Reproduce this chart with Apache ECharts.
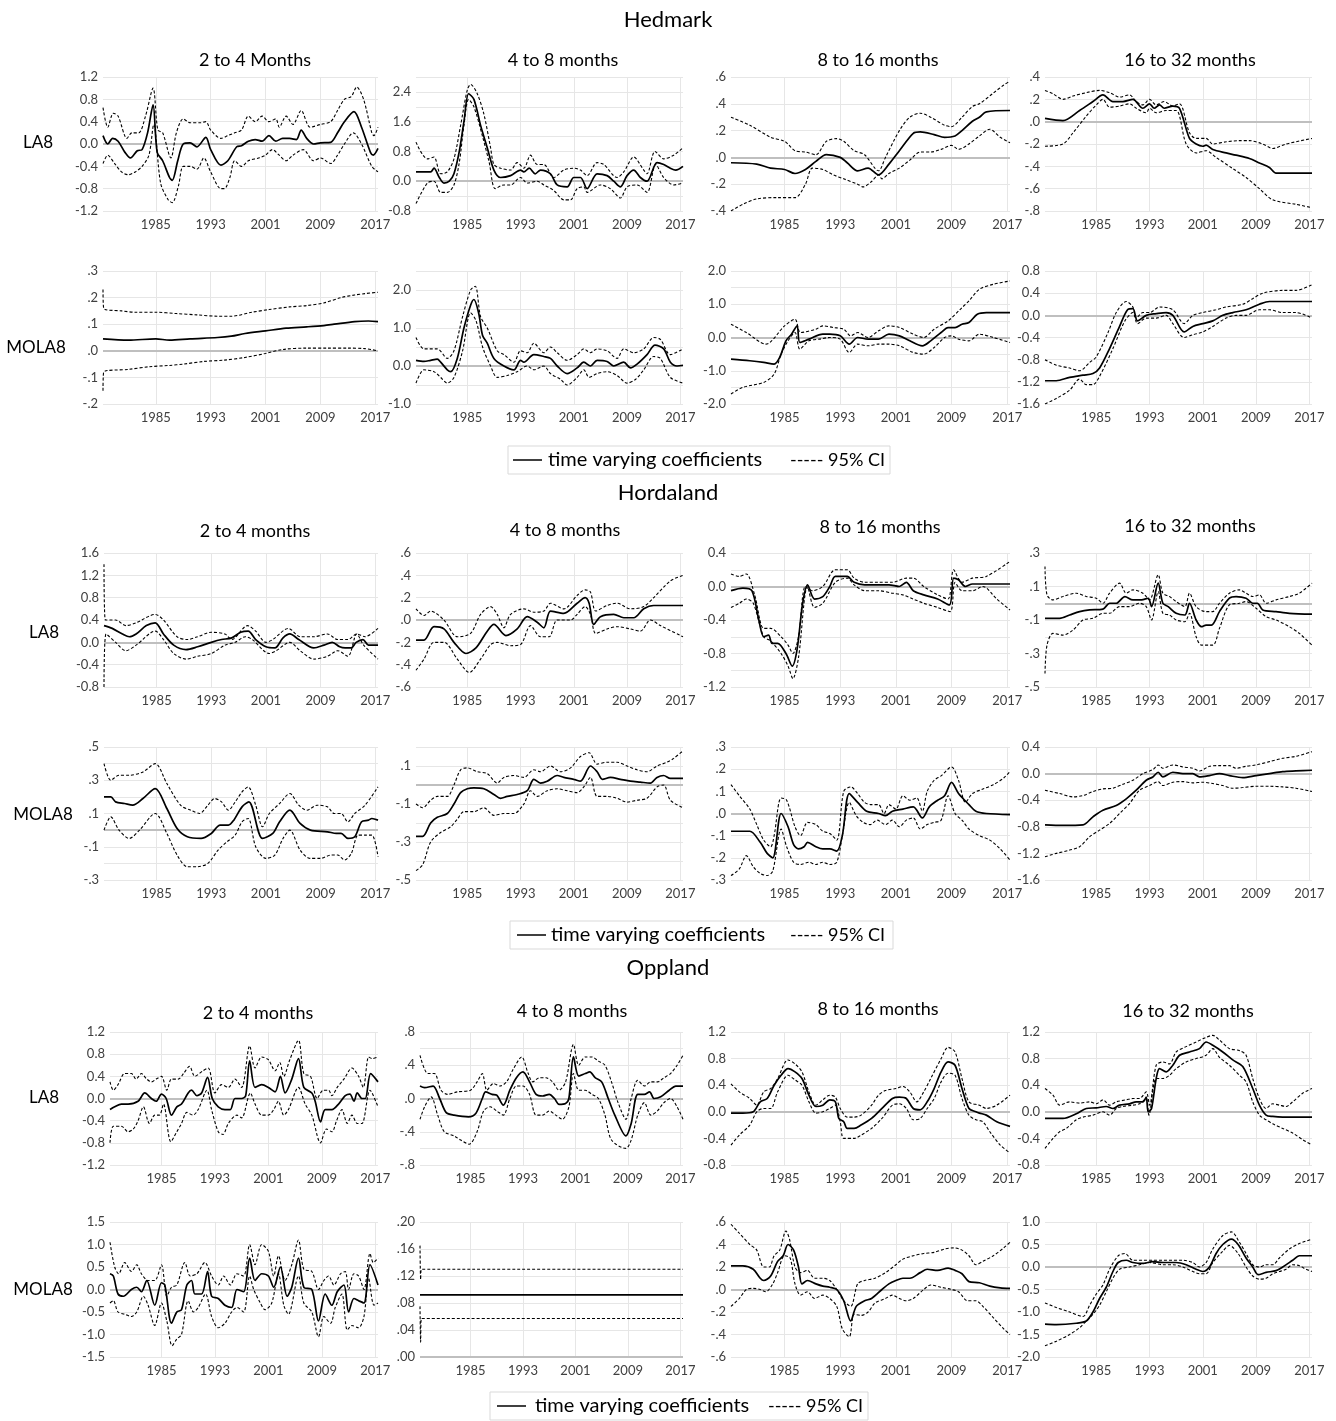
<!DOCTYPE html>
<html>
<head>
<meta charset="utf-8">
<script src="https://cdn.jsdelivr.net/npm/echarts@6/dist/echarts.min.js"></script>
<style>
html, body { margin: 0; padding: 0; background: #fff; }
#main { width: 1336px; height: 1421px; }
</style>
</head>
<body>
<div id="main"></div>
<script>
// x axis
var yearTicks = [1985, 1993, 2001, 2009, 2017];
var xMin = 1977.3, xMax = 2017.4;

// y tick lists (gridlines / labelled values)
var t12by4 = [-1.2, -0.8, -0.4, 0, 0.4, 0.8, 1.2];
var tH48grid = [-0.8, -0.4, 0, 0.4, 0.8, 1.2, 1.6, 2.0, 2.4, 2.8];
var tH48lab = [-0.8, 0, 0.8, 1.6, 2.4];
var tH816 = [-0.4, -0.2, 0, 0.2, 0.4, 0.6];
var tH1632 = [-0.8, -0.6, -0.4, -0.2, 0, 0.2, 0.4];
var tHM24 = [-0.2, -0.1, 0, 0.1, 0.2, 0.3];
var tHM48grid = [-1, -0.5, 0, 0.5, 1, 1.5, 2, 2.5];
var tHM48lab = [-1, 0, 1, 2];
var tHM816grid = [-2, -1.5, -1, -0.5, 0, 0.5, 1, 1.5, 2];
var tHM816lab = [-2, -1, 0, 1, 2];
var t16by4 = [-1.6, -1.2, -0.8, -0.4, 0, 0.4, 0.8];
var tD24 = [-0.8, -0.4, 0, 0.4, 0.8, 1.2, 1.6];
var tD48 = [-0.6, -0.4, -0.2, 0, 0.2, 0.4, 0.6];
var tD816grid = [-1.2, -1.0, -0.8, -0.6, -0.4, -0.2, 0, 0.2, 0.4];
var tD816lab = [-1.2, -0.8, -0.4, 0, 0.4];
var tD1632grid = [-0.5, -0.4, -0.3, -0.2, -0.1, 0, 0.1, 0.2, 0.3];
var tD1632lab = [-0.5, -0.3, -0.1, 0.1, 0.3];
var tDM24grid = [-0.3, -0.2, -0.1, 0, 0.1, 0.2, 0.3, 0.4, 0.5];
var tDM24lab = [-0.3, -0.1, 0.1, 0.3, 0.5];
var tDM48grid = [-0.5, -0.4, -0.3, -0.2, -0.1, 0, 0.1, 0.2];
var tDM48lab = [-0.5, -0.3, -0.1, 0.1];
var tDM816 = [-0.3, -0.2, -0.1, 0, 0.1, 0.2, 0.3];
var tDM1632 = [-1.6, -1.2, -0.8, -0.4, 0, 0.4];
var tO48grid = [-0.8, -0.6, -0.4, -0.2, 0, 0.2, 0.4, 0.6, 0.8];
var tO48lab = [-0.8, -0.4, 0, 0.4, 0.8];
var tO816 = [-0.8, -0.4, 0, 0.4, 0.8, 1.2];
var tOM24 = [-1.5, -1, -0.5, 0, 0.5, 1, 1.5];
var tOM48 = [0, 0.04, 0.08, 0.12, 0.16, 0.2];
var tOM816 = [-0.6, -0.4, -0.2, 0, 0.2, 0.4, 0.6];
var tOM1632 = [-2, -1.5, -1, -0.5, 0, 0.5, 1];

// ---------------- Hedmark LA8 ----------------
var hedLa24Mid = [[1977.3,0.15],[1978,0.0],[1978.7,0.1],[1979.5,0.05],[1980.5,-0.15],[1981.3,-0.25],[1982.3,-0.12],[1983,-0.1],[1983.8,0.2],[1984.6,0.7],[1985.2,-0.15],[1986,-0.3],[1987,-0.6],[1987.4,-0.65],[1988.2,-0.3],[1989,0.0],[1990,0.02],[1991,-0.05],[1992.3,0.12],[1993,-0.1],[1994.5,-0.38],[1995.5,-0.3],[1996.8,-0.05],[1997.5,-0.03],[1998.5,0.05],[1999.5,0.08],[2000.5,0.05],[2001.5,0.15],[2002.5,0.05],[2003.5,0.1],[2004.5,0.1],[2005.5,0.08],[2006.2,0.25],[2007,0.1],[2008,0.0],[2009,0.02],[2010.5,0.03],[2011.5,0.2],[2012.5,0.4],[2013.9,0.58],[2015,0.3],[2016.3,-0.15],[2016.7,-0.2],[2017.4,-0.08]];
var hedLa24Hi = [[1977.3,0.65],[1978,0.3],[1978.8,0.55],[1979.5,0.5],[1980.8,0.1],[1981.5,0.2],[1982.5,0.2],[1983.5,0.5],[1984.6,1.0],[1985.3,0.25],[1986,0.2],[1987.2,-0.25],[1988,0.2],[1989,0.45],[1990,0.38],[1991.5,0.38],[1992.3,0.4],[1993,0.25],[1994.5,0.1],[1995.5,0.15],[1996.5,0.2],[1997.5,0.25],[1998.5,0.5],[1999.5,0.4],[2000.5,0.5],[2001.5,0.4],[2002.5,0.45],[2003,0.3],[2004,0.5],[2005,0.35],[2006.2,0.6],[2007.5,0.3],[2009,0.35],[2010.5,0.4],[2011.5,0.6],[2012.5,0.8],[2013.5,0.85],[2014.3,1.02],[2015.3,0.8],[2016.5,0.2],[2016.8,0.15],[2017.4,0.3]];
var hedLa24Lo = [[1977.3,-0.35],[1978,-0.2],[1979,-0.35],[1980,-0.5],[1981,-0.55],[1982,-0.5],[1983,-0.4],[1984,-0.2],[1984.7,0.35],[1985.7,-0.7],[1986.8,-1.0],[1987.4,-1.05],[1988.3,-0.75],[1989,-0.4],[1990,-0.4],[1991,-0.45],[1992,-0.25],[1993,-0.5],[1994.5,-0.8],[1995,-0.8],[1995.8,-0.6],[1996.5,-0.3],[1997.5,-0.4],[1998.5,-0.3],[2000,-0.25],[2001,-0.2],[2002,-0.1],[2003,-0.2],[2004,-0.3],[2005,-0.2],[2006.5,-0.1],[2008,-0.3],[2009,-0.25],[2010.5,-0.35],[2011.5,-0.2],[2012.5,0.0],[2013.8,0.2],[2015,0.0],[2016.5,-0.4],[2017.4,-0.5]];

var hedLa48Mid = [[1977.3,0.25],[1979.5,0.25],[1980,0.35],[1980.8,0.1],[1981.5,-0.05],[1982.3,0.0],[1983,0.2],[1983.8,0.8],[1984.5,1.6],[1985.2,2.35],[1986,2.2],[1987,1.5],[1988,0.9],[1989,0.3],[1990,0.1],[1991.5,0.15],[1993,0.3],[1993.5,0.25],[1994.3,0.35],[1995.2,0.2],[1996,0.3],[1997.5,0.2],[1998.5,-0.1],[2000,-0.15],[2001,0.1],[2002,0.1],[2003,-0.2],[2004.5,0.2],[2006,0.15],[2007,0.0],[2008,-0.15],[2009,0.15],[2010,0.3],[2011,0.1],[2012,0.0],[2013.5,0.5],[2014.5,0.45],[2015.5,0.35],[2016.3,0.3],[2017.4,0.4]];
var hedLa48Hi = [[1977.3,1.05],[1979,0.6],[1980,0.65],[1981,0.2],[1982,0.25],[1983,0.6],[1984,1.5],[1985,2.45],[1985.5,2.6],[1986.5,2.35],[1987.5,1.8],[1988.5,0.9],[1989,0.45],[1990,0.35],[1991.5,0.3],[1992.5,0.5],[1993.5,0.35],[1994.5,0.7],[1995.5,0.45],[1996.5,0.45],[1998,0.1],[1999.5,0.3],[2001,0.35],[2002,0.3],[2003,0.15],[2004.5,0.5],[2005.5,0.45],[2007.5,0.1],[2008.5,0.25],[2010,0.65],[2011.5,0.3],[2012,0.2],[2013.2,0.8],[2014.5,0.6],[2016,0.7],[2017.4,0.9]];
var hedLa48Lo = [[1977.3,-0.6],[1979,-0.05],[1980,0.0],[1981,-0.3],[1982,-0.3],[1983,-0.1],[1983.8,0.5],[1984.5,1.5],[1985.2,2.2],[1986,2.0],[1987.3,1.2],[1988.3,0.5],[1989.2,-0.2],[1990.5,-0.1],[1991.5,-0.1],[1993,0.1],[1994,-0.05],[1995.5,0.0],[1996.5,-0.1],[1998,-0.25],[1999.5,-0.5],[2000.5,-0.5],[2001.5,-0.2],[2002.5,-0.15],[2003,-0.3],[2005,-0.1],[2006.5,-0.2],[2008,-0.45],[2009,-0.15],[2010.5,-0.1],[2012,-0.3],[2013.3,0.45],[2014.5,0.1],[2016,-0.1],[2017.4,-0.05]];

var hedLa816Mid = [[1977.3,-0.04],[1981,-0.05],[1983,-0.08],[1985,-0.09],[1986.5,-0.12],[1988,-0.09],[1989.5,-0.03],[1991,0.02],[1993,0.0],[1994,-0.04],[1995.5,-0.1],[1997,-0.08],[1998.5,-0.13],[2000,-0.05],[2001.5,0.05],[2003.5,0.18],[2004.5,0.19],[2006.5,0.17],[2008,0.15],[2009.5,0.16],[2010.5,0.2],[2012,0.27],[2013,0.3],[2014,0.34],[2017.4,0.35]];
var hedLa816Hi = [[1977.3,0.3],[1980,0.24],[1983,0.15],[1985,0.12],[1986.5,0.05],[1988,0.04],[1989.5,0.02],[1991,0.12],[1992.5,0.14],[1993.5,0.12],[1995,0.05],[1996.5,0.02],[1998.5,-0.1],[1999.5,0.0],[2001.5,0.2],[2003,0.3],[2004.5,0.33],[2006,0.3],[2008,0.24],[2009,0.23],[2010.5,0.3],[2012,0.38],[2013,0.4],[2015,0.48],[2016.5,0.54],[2017.4,0.57]];
var hedLa816Lo = [[1977.3,-0.4],[1979,-0.35],[1981,-0.31],[1984,-0.3],[1986.5,-0.3],[1988,-0.2],[1989,-0.08],[1990.5,-0.09],[1992,-0.13],[1993.5,-0.16],[1995.5,-0.2],[1996.3,-0.22],[1997.5,-0.18],[1998.5,-0.13],[1999,-0.16],[2000,-0.12],[2001.5,-0.08],[2003,-0.02],[2004.5,0.04],[2006,0.04],[2007.5,0.06],[2009,0.09],[2010,0.06],[2011.5,0.1],[2013,0.16],[2014.5,0.21],[2016,0.15],[2017.4,0.11]];

var hedLa1632Mid = [[1977.3,0.03],[1980,0.01],[1982.5,0.1],[1984.5,0.18],[1986,0.24],[1987.5,0.18],[1989,0.18],[1990.5,0.2],[1992,0.12],[1993,0.16],[1993.7,0.12],[1994.5,0.15],[1995.2,0.12],[1996.5,0.14],[1997.5,0.12],[1999,-0.15],[2000,-0.2],[2001,-0.22],[2001.5,-0.21],[2002.5,-0.25],[2004.5,-0.28],[2006,-0.3],[2008,-0.33],[2009.5,-0.37],[2011,-0.41],[2012,-0.46],[2017.4,-0.46]];
var hedLa1632Hi = [[1977.3,0.28],[1978.5,0.25],[1980,0.2],[1981.5,0.23],[1983.5,0.26],[1985.5,0.28],[1987,0.26],[1988.5,0.22],[1990,0.24],[1991,0.18],[1992,0.15],[1993,0.2],[1994,0.15],[1995.2,0.18],[1996.5,0.14],[1997.5,0.16],[1999,-0.1],[2000,-0.15],[2001.5,-0.15],[2002.5,-0.2],[2004.5,-0.18],[2006.5,-0.17],[2008,-0.17],[2010,-0.2],[2011.5,-0.24],[2013.5,-0.2],[2017.4,-0.15]];
var hedLa1632Lo = [[1977.3,-0.22],[1980,-0.2],[1981.5,-0.1],[1983.5,0.05],[1985,0.15],[1986,0.2],[1987,0.13],[1988.5,0.14],[1990,0.16],[1991,0.12],[1992.5,0.08],[1993,0.12],[1994,0.08],[1995.5,0.1],[1997,0.1],[1998.5,-0.2],[2000,-0.28],[2001.5,-0.26],[2003,-0.32],[2005.5,-0.42],[2007.5,-0.5],[2009.5,-0.6],[2011.5,-0.7],[2015,-0.74],[2017.4,-0.77]];

// ---------------- Hedmark MOLA8 ----------------
var hedMo24Mid = [[1977.3,0.045],[1981,0.04],[1985,0.045],[1987,0.04],[1990,0.045],[1994,0.05],[1996,0.055],[1998,0.065],[2001,0.075],[2004,0.085],[2007,0.09],[2009.5,0.095],[2011,0.1],[2014,0.11],[2016,0.112],[2017.4,0.11]];
var hedMo24Hi = [[1977.3,0.23],[1977.4,0.16],[1980,0.15],[1982,0.145],[1985,0.145],[1988,0.14],[1991,0.135],[1994,0.13],[1996,0.13],[1999,0.145],[2001.5,0.155],[2004.5,0.165],[2007,0.17],[2009.5,0.18],[2012,0.2],[2014,0.21],[2015.5,0.215],[2017.4,0.22]];
var hedMo24Lo = [[1977.3,-0.15],[1977.4,-0.08],[1981,-0.07],[1984,-0.06],[1987,-0.055],[1989,-0.05],[1992,-0.04],[1995,-0.035],[1998,-0.025],[2001,-0.01],[2003.5,0.005],[2007,0.01],[2010,0.01],[2013,0.01],[2015.5,0.008],[2017.4,0.0]];

var hedMo48Mid = [[1977.3,0.15],[1978.5,0.12],[1979.5,0.15],[1980.5,0.18],[1981,0.1],[1982,-0.1],[1982.5,-0.15],[1983.5,0.2],[1984.5,1.0],[1985.5,1.6],[1986,1.75],[1986.7,1.4],[1987.3,0.8],[1988,0.6],[1989,0.2],[1990.5,0.0],[1992,-0.1],[1993,0.15],[1993.5,0.1],[1995,0.3],[1996.5,0.25],[1997.5,0.2],[1998.5,0.0],[2000,-0.2],[2001.5,-0.05],[2002.5,0.1],[2003.5,0.0],[2004.5,0.15],[2006,0.12],[2007,0.0],[2008.5,0.1],[2009.5,-0.05],[2010.5,0.05],[2012,0.3],[2013.2,0.55],[2014.5,0.45],[2015.5,0.1],[2016.5,0.0],[2017.4,0.02]];
var hedMo48Hi = [[1977.3,0.75],[1978.5,0.45],[1980.5,0.45],[1982,0.2],[1983,0.4],[1984.3,1.3],[1985.5,2.0],[1986.2,2.1],[1987,1.3],[1988,1.0],[1989.5,0.4],[1990.5,0.3],[1992,0.1],[1993,0.4],[1994,0.35],[1995,0.6],[1996.5,0.35],[1997.5,0.5],[1998.5,0.35],[2000,0.15],[2001.5,0.3],[2002.5,0.45],[2003.5,0.35],[2004.5,0.45],[2006,0.4],[2007.5,0.2],[2008.5,0.45],[2010,0.35],[2011.5,0.45],[2013,0.75],[2014,0.7],[2015.5,0.3],[2017.4,0.45]];
var hedMo48Lo = [[1977.3,-0.45],[1978.5,-0.1],[1980,-0.15],[1981,-0.3],[1982,-0.45],[1983,-0.3],[1984.3,0.4],[1985.5,1.4],[1986.3,1.2],[1987.3,0.5],[1988.5,0.0],[1989.5,-0.3],[1991,-0.25],[1992.5,-0.15],[1994,0.0],[1995,-0.1],[1996.5,0.0],[1997.5,-0.2],[1999,-0.35],[2000,-0.5],[2001.5,-0.3],[2002.5,-0.1],[2003.3,-0.3],[2004.5,-0.2],[2006,-0.15],[2007.5,-0.25],[2009,-0.45],[2010.3,-0.35],[2011.5,-0.1],[2013,0.25],[2014,0.2],[2015.5,-0.3],[2017.4,-0.45]];

var hedMo816Mid = [[1977.3,-0.65],[1980,-0.7],[1982,-0.75],[1983.5,-0.8],[1984.3,-0.6],[1985.2,-0.1],[1986,0.1],[1986.8,0.35],[1987.2,-0.15],[1988.5,-0.05],[1990.5,0.1],[1991.5,0.1],[1993,0.05],[1994.3,-0.2],[1995.5,0.0],[1997,-0.05],[1998.5,-0.05],[2000,0.1],[2001.5,0.05],[2003,-0.1],[2004.8,-0.25],[2006,-0.1],[2007.5,0.15],[2008.5,0.3],[2009.5,0.3],[2010.5,0.4],[2011.5,0.45],[2012.7,0.7],[2014,0.75],[2017.4,0.75]];
var hedMo816Hi = [[1977.3,0.4],[1979.5,0.15],[1982.3,-0.2],[1985,0.35],[1986.5,0.55],[1987.3,0.15],[1989.5,0.25],[1990.5,0.35],[1992,0.3],[1993.5,0.25],[1994.5,0.05],[1995.5,0.15],[1997,0.0],[1998.5,0.2],[2000,0.35],[2001.5,0.3],[2003.5,0.1],[2005,0.0],[2006.5,0.25],[2008.5,0.5],[2010.5,0.9],[2011.5,1.1],[2013,1.45],[2015,1.6],[2017.4,1.7]];
var hedMo816Lo = [[1977.3,-1.7],[1979,-1.5],[1982,-1.35],[1983.5,-1.1],[1984.5,-0.5],[1985.5,-0.1],[1986.5,0.15],[1987.2,-0.35],[1988.5,-0.1],[1990,-0.05],[1991.5,0.0],[1993,-0.05],[1994.3,-0.45],[1995.5,-0.2],[1997,-0.25],[1998.5,-0.2],[2000,-0.2],[2001.5,-0.25],[2003.5,-0.45],[2005,-0.5],[2006.5,-0.3],[2008,0.0],[2009,0.05],[2010,-0.05],[2011.5,-0.1],[2013,0.1],[2015,0.0],[2017.4,-0.15]];

var hedMo1632Mid = [[1977.3,-1.18],[1979,-1.18],[1981,-1.12],[1983,-1.08],[1984.5,-1.05],[1985.5,-0.95],[1987,-0.6],[1988.5,-0.2],[1989.7,0.1],[1990.5,0.12],[1991.2,-0.1],[1992.5,0.0],[1994,0.03],[1995.5,0.05],[1996.5,0.0],[1998.2,-0.3],[1999.5,-0.2],[2001,-0.15],[2002.5,-0.1],[2004,0.0],[2005.5,0.05],[2007.5,0.1],[2009.5,0.2],[2011,0.25],[2017.4,0.25]];
var hedMo1632Hi = [[1977.3,-0.8],[1979,-0.9],[1981,-0.95],[1982.5,-1.0],[1984,-0.85],[1985,-0.75],[1986.8,-0.3],[1988,0.05],[1989.5,0.25],[1990.5,0.15],[1991,-0.05],[1992,0.05],[1993,0.05],[1994.5,0.15],[1996.5,0.1],[1998.2,-0.15],[1999.5,0.0],[2001,0.05],[2003,0.1],[2004.5,0.15],[2007,0.2],[2008.5,0.3],[2010,0.4],[2013,0.45],[2015,0.45],[2017.4,0.55]];
var hedMo1632Lo = [[1977.3,-1.6],[1979,-1.5],[1981,-1.35],[1982.5,-1.15],[1983.5,-1.25],[1984.5,-1.25],[1985.5,-1.1],[1987.5,-0.6],[1989.3,-0.1],[1990.5,0.05],[1991.2,-0.15],[1992.5,-0.05],[1994,-0.05],[1995.5,0.0],[1996.5,-0.15],[1998.2,-0.4],[1999.5,-0.35],[2001,-0.3],[2002.5,-0.2],[2004.5,-0.05],[2006,0.0],[2007.5,0.0],[2009.5,0.1],[2011,0.1],[2013,0.05],[2015,0.05],[2017.4,-0.05]];

// ---------------- Hordaland LA8 ----------------
var horLa24Mid = [[1977.3,0.3],[1978.5,0.25],[1980,0.15],[1981,0.1],[1982,0.15],[1983.5,0.3],[1984.8,0.35],[1986,0.15],[1987.5,-0.05],[1989.3,-0.13],[1991,-0.08],[1993,0.0],[1994.5,0.05],[1996,0.08],[1997.3,0.18],[1998.4,0.2],[1999.5,0.05],[2001,-0.08],[2002.3,-0.1],[2003.5,0.08],[2004.5,0.15],[2005.8,0.05],[2008,-0.1],[2009.5,-0.05],[2010.7,0.0],[2011.8,-0.08],[2012.6,-0.1],[2013.5,-0.1],[2014.2,0.0],[2015.2,0.05],[2016,-0.05],[2017.4,-0.05]];
var horLa24Hi = [[1977.3,1.4],[1977.5,0.4],[1979,0.4],[1980.5,0.3],[1982,0.35],[1984.8,0.5],[1986,0.4],[1988,0.1],[1989.5,0.05],[1991,0.1],[1993,0.18],[1995,0.15],[1996,0.05],[1998.3,0.3],[1999.5,0.2],[2001,0.0],[2002,0.05],[2004.3,0.25],[2006,0.1],[2008,0.1],[2010,0.15],[2011.5,0.05],[2013,0.05],[2014.3,0.15],[2015.5,0.1],[2017.4,0.25]];
var horLa24Lo = [[1977.3,-0.8],[1977.6,0.15],[1979,0.0],[1980.5,-0.15],[1982,-0.05],[1984.8,0.2],[1986,0.05],[1987.5,-0.2],[1989.3,-0.3],[1991,-0.25],[1993,-0.2],[1995,-0.05],[1996.5,0.0],[1998,0.1],[1999,0.05],[2001.5,-0.2],[2002.5,-0.15],[2004.5,0.0],[2006,-0.15],[2008,-0.3],[2010,-0.25],[2011.5,-0.15],[2013,-0.25],[2014.3,0.15],[2015.3,-0.05],[2017.4,-0.3]];

var horLa48Mid = [[1977.3,-0.18],[1978.5,-0.18],[1980,-0.06],[1981.5,-0.08],[1983,-0.2],[1984.8,-0.3],[1986.3,-0.25],[1988,-0.1],[1989,-0.04],[1990.8,-0.14],[1992.5,-0.08],[1994,0.03],[1995.5,-0.02],[1996.5,-0.07],[1997.5,0.08],[1999.5,0.06],[2001.5,0.15],[2002.7,0.2],[2003.3,0.15],[2004,-0.04],[2005,0.03],[2007,0.05],[2008.5,0.02],[2010,0.02],[2011.5,0.1],[2013,0.13],[2017.4,0.13]];
var horLa48Hi = [[1977.3,0.1],[1978.5,0.04],[1979.5,0.08],[1981.5,0.0],[1983.5,-0.15],[1985.5,-0.12],[1987,0.05],[1988.5,0.12],[1989.5,0.05],[1990.5,-0.07],[1991.5,0.05],[1993.5,0.1],[1995,0.07],[1996.5,0.08],[1997.5,0.15],[1999.5,0.1],[2001.5,0.22],[2002.7,0.27],[2003.5,0.25],[2004.3,0.08],[2006,0.13],[2007.5,0.15],[2009.5,0.1],[2011.5,0.12],[2013,0.2],[2015.5,0.35],[2017.4,0.4]];
var horLa48Lo = [[1977.3,-0.45],[1978.5,-0.35],[1980,-0.2],[1981.5,-0.2],[1983.5,-0.35],[1985.3,-0.47],[1987,-0.35],[1988.5,-0.22],[1989.5,-0.2],[1991.5,-0.23],[1993,-0.22],[1994.5,-0.05],[1996,-0.15],[1997.3,-0.15],[1998.5,0.0],[2000.5,0.0],[2001.5,0.05],[2002.7,0.12],[2003.5,0.05],[2004.3,-0.12],[2006,-0.08],[2007.5,-0.06],[2009.5,-0.08],[2011,-0.1],[2012.5,0.0],[2014,-0.05],[2017.4,-0.15]];

var horLa816Mid = [[1977.3,-0.05],[1979,-0.02],[1980.3,-0.05],[1981.3,-0.4],[1982,-0.6],[1982.7,-0.58],[1983.2,-0.68],[1984,-0.68],[1985.2,-0.8],[1986.1,-0.95],[1986.8,-0.75],[1987.6,-0.2],[1988.3,0.02],[1989.3,-0.15],[1990.5,-0.12],[1991.5,0.0],[1992.3,0.12],[1994,0.12],[1995,0.05],[1996.5,0.02],[1998,0.02],[2000,0.02],[2001.5,0.0],[2002.5,0.05],[2003.5,-0.05],[2005,-0.1],[2007,-0.15],[2008.7,-0.22],[2009.3,0.1],[2010,0.08],[2011,0.0],[2012,0.03],[2017.4,0.03]];
var horLa816Hi = [[1977.3,0.15],[1978.5,0.12],[1979.5,0.15],[1980.7,-0.1],[1982,-0.5],[1983,-0.5],[1984.5,-0.6],[1985.5,-0.7],[1986.2,-0.8],[1987,-0.6],[1988,0.0],[1989,-0.05],[1990.5,0.0],[1992.3,0.2],[1994,0.2],[1995,0.1],[1996.5,0.05],[1998.5,0.05],[2000.5,0.05],[2002.5,0.1],[2003.5,0.1],[2005,0.0],[2007,-0.1],[2008.5,-0.15],[2009.3,0.2],[2010.5,0.05],[2012,0.1],[2014,0.12],[2017.4,0.3]];
var horLa816Lo = [[1977.3,-0.25],[1978.5,-0.2],[1979.5,-0.15],[1980.5,-0.2],[1982,-0.6],[1983,-0.65],[1984.5,-0.8],[1985.5,-0.95],[1986.2,-1.1],[1987,-0.85],[1988.3,0.0],[1989.3,-0.25],[1990.5,-0.2],[1992.3,0.05],[1994,0.1],[1995,0.02],[1996.5,-0.05],[1998.5,-0.05],[2000.5,-0.08],[2002,-0.1],[2003.5,-0.15],[2005,-0.2],[2007,-0.25],[2008.8,-0.3],[2009.5,0.05],[2010.5,-0.05],[2012,-0.05],[2013.5,0.0],[2015.5,-0.15],[2017.4,-0.28]];

var horLa1632Mid = [[1977.3,-0.09],[1979.5,-0.09],[1981,-0.07],[1982.5,-0.05],[1984,-0.04],[1986,-0.035],[1987,0.0],[1988,0.0],[1989.3,0.04],[1990.5,0.02],[1991.8,0.02],[1992.8,0.03],[1993.3,-0.02],[1994.3,0.12],[1995,0.0],[1995.8,-0.02],[1997,-0.06],[1998.3,-0.07],[1999,0.0],[2000,-0.1],[2000.8,-0.14],[2001.5,-0.13],[2002.3,-0.13],[2003.5,-0.05],[2005,0.03],[2006,0.04],[2007.5,0.03],[2008.5,0.0],[2009.2,0.0],[2010,-0.04],[2012,-0.05],[2014,-0.06],[2017.4,-0.065]];
var horLa1632Hi = [[1977.3,0.22],[1977.6,0.05],[1978.5,0.02],[1980,0.04],[1982,0.06],[1983.5,0.04],[1985,0.03],[1986,0.0],[1987,0.06],[1988.5,0.12],[1989.5,0.06],[1990.5,0.08],[1992,0.06],[1993,0.02],[1994.3,0.17],[1995,0.06],[1996,0.04],[1997,0.01],[1998.3,-0.02],[1999,0.06],[2000,-0.02],[2001.5,-0.05],[2002.5,-0.05],[2003.5,0.0],[2005,0.06],[2006.5,0.08],[2007.5,0.06],[2008.5,0.04],[2009.5,0.05],[2010.5,0.0],[2012,0.02],[2014,0.04],[2015.5,0.06],[2017.4,0.12]];
var horLa1632Lo = [[1977.3,-0.42],[1977.6,-0.25],[1978.5,-0.18],[1980,-0.19],[1981.5,-0.16],[1983,-0.1],[1984.5,-0.09],[1986,-0.06],[1987,-0.06],[1988.5,-0.02],[1990,-0.02],[1991.5,0.0],[1992.5,-0.02],[1993.3,-0.1],[1994.3,0.07],[1995,-0.06],[1996,-0.07],[1997,-0.1],[1998.3,-0.11],[1999,-0.06],[2000,-0.2],[2000.8,-0.25],[2002.5,-0.25],[2003.5,-0.15],[2005,-0.01],[2006.5,0.0],[2007.5,0.01],[2009,-0.03],[2010.5,-0.08],[2012,-0.1],[2014,-0.14],[2015.5,-0.18],[2017.4,-0.25]];

// ---------------- Hordaland MOLA8 ----------------
var horMo24Mid = [[1977.3,0.2],[1978.3,0.2],[1979,0.17],[1980.3,0.16],[1981.5,0.15],[1983,0.19],[1984.8,0.25],[1986.5,0.13],[1988,0.01],[1989.5,-0.04],[1991.5,-0.05],[1993,-0.02],[1994.3,0.03],[1995.5,0.03],[1996.3,0.06],[1997.5,0.14],[1998.5,0.17],[2000.5,-0.05],[2002,-0.02],[2003,0.05],[2004.5,0.12],[2006,0.04],[2007.5,0.0],[2010,-0.01],[2011.3,-0.02],[2012,-0.02],[2013,-0.05],[2014,-0.04],[2015,0.05],[2016,0.06],[2016.5,0.07],[2017.4,0.06]];
var horMo24Hi = [[1977.3,0.4],[1978.3,0.3],[1979.5,0.33],[1981,0.33],[1983,0.35],[1984.8,0.4],[1986.5,0.28],[1988.5,0.15],[1990,0.12],[1991.3,0.1],[1992.5,0.15],[1993.5,0.19],[1994.5,0.17],[1995.5,0.12],[1996.5,0.17],[1997.5,0.23],[1998.4,0.26],[1999.5,0.15],[2000.5,0.02],[2001.5,0.1],[2003,0.16],[2004.5,0.22],[2005.8,0.15],[2007,0.12],[2008.5,0.15],[2010,0.14],[2011,0.1],[2012,0.1],[2013,0.05],[2014,0.1],[2015.5,0.15],[2017.4,0.26]];
var horMo24Lo = [[1977.3,0.0],[1978.3,0.08],[1979.5,0.0],[1981,-0.05],[1982.5,0.0],[1984.8,0.1],[1986.5,-0.02],[1988,-0.15],[1989.5,-0.22],[1991,-0.22],[1992.5,-0.2],[1994,-0.12],[1995.3,-0.07],[1996.5,-0.03],[1997.5,0.05],[1998.4,0.07],[1999.5,-0.1],[2001,-0.17],[2002.3,-0.15],[2003.5,-0.05],[2004.5,0.0],[2006,-0.12],[2007.5,-0.17],[2009,-0.17],[2010.5,-0.15],[2011.5,-0.15],[2012.5,-0.18],[2013.5,-0.14],[2014.5,-0.03],[2015.5,-0.03],[2016.5,-0.03],[2017.4,-0.16]];

var horMo48Mid = [[1977.3,-0.27],[1978.3,-0.27],[1979.5,-0.2],[1980.5,-0.17],[1982,-0.15],[1983,-0.1],[1984,-0.04],[1985,-0.02],[1986,-0.015],[1987.5,-0.02],[1989,-0.05],[1990,-0.07],[1991,-0.06],[1992.5,-0.05],[1994,-0.03],[1995,0.03],[1996,0.01],[1997,0.02],[1998.5,0.05],[1999.5,0.04],[2001,0.03],[2002,0.02],[2003.5,0.1],[2004.5,0.07],[2005.3,0.03],[2006.5,0.04],[2008,0.03],[2009.5,0.02],[2011,0.015],[2012.5,0.01],[2013.5,0.04],[2014.5,0.05],[2015.5,0.035],[2017.4,0.035]];
var horMo48Hi = [[1977.3,-0.1],[1978.3,-0.12],[1979.5,-0.08],[1980.5,-0.06],[1982,-0.06],[1983,0.0],[1984,0.08],[1985,0.09],[1986.5,0.07],[1988,0.06],[1989.5,0.01],[1990.5,0.04],[1992,0.05],[1993.5,0.04],[1995,0.08],[1996,0.07],[1997.5,0.1],[1999,0.07],[2000.5,0.09],[2002,0.15],[2003.3,0.17],[2004.5,0.11],[2006,0.12],[2007.5,0.12],[2009,0.1],[2010.5,0.08],[2012,0.07],[2013.5,0.1],[2015,0.12],[2016,0.14],[2017.4,0.18]];
var horMo48Lo = [[1977.3,-0.45],[1978.3,-0.42],[1979.5,-0.3],[1981,-0.25],[1982.5,-0.22],[1983.5,-0.18],[1984.5,-0.14],[1986,-0.14],[1987.5,-0.12],[1989,-0.16],[1990.5,-0.15],[1992,-0.15],[1993.5,-0.1],[1994.5,-0.03],[1995.5,-0.06],[1997,-0.03],[1998.5,-0.02],[2000,-0.03],[2001.5,-0.04],[2002.5,-0.01],[2003.5,0.04],[2004.5,-0.06],[2006,-0.06],[2007.5,-0.07],[2009,-0.09],[2010.5,-0.08],[2012,-0.07],[2013.5,-0.01],[2014.5,0.0],[2015.5,-0.08],[2017.4,-0.12]];

var horMo816Mid = [[1977.3,-0.08],[1980,-0.08],[1981.5,-0.13],[1982.5,-0.18],[1983.3,-0.2],[1984.5,0.0],[1985.5,-0.06],[1986.3,-0.14],[1987,-0.16],[1987.8,-0.15],[1988.3,-0.13],[1989.5,-0.15],[1990.5,-0.16],[1991.5,-0.16],[1992.5,-0.17],[1993.3,-0.1],[1994.3,0.09],[1995.5,0.05],[1996.8,0.01],[1998.5,0.0],[1999.5,-0.01],[2000.5,0.01],[2002,0.02],[2003.5,0.03],[2004.8,-0.02],[2005.8,0.03],[2007,0.06],[2008,0.08],[2009,0.14],[2010,0.09],[2011.5,0.04],[2012.5,0.01],[2014,0.0],[2017.4,-0.005]];
var horMo816Hi = [[1977.3,0.13],[1978.5,0.08],[1980,0.02],[1981,-0.05],[1982,-0.12],[1983,-0.15],[1983.5,-0.1],[1984.5,0.07],[1985.3,0.06],[1986.5,-0.06],[1987.3,-0.1],[1988.3,-0.04],[1989.5,-0.05],[1990.5,-0.08],[1991.5,-0.09],[1992.5,-0.12],[1993.5,0.1],[1994.5,0.12],[1995.5,0.09],[1996.5,0.05],[1997.5,0.04],[1998.5,0.04],[1999.3,0.0],[2000,0.04],[2001,0.02],[2002,0.08],[2003,0.06],[2004,0.07],[2004.8,0.01],[2005.5,0.1],[2006.5,0.15],[2007.5,0.17],[2009,0.21],[2010,0.15],[2011,0.05],[2012,0.09],[2013.5,0.11],[2015,0.13],[2016.5,0.16],[2017.4,0.19]];
var horMo816Lo = [[1977.3,-0.28],[1978.5,-0.25],[1979.5,-0.19],[1980.5,-0.24],[1981.5,-0.27],[1982.5,-0.28],[1983.3,-0.26],[1984.5,-0.07],[1985.3,-0.15],[1986.3,-0.22],[1987.3,-0.23],[1988.5,-0.22],[1989.5,-0.23],[1990.5,-0.22],[1991.5,-0.23],[1992.5,-0.22],[1993.3,-0.1],[1994.3,0.05],[1995.3,-0.01],[1996.3,-0.04],[1997.3,-0.05],[1998.3,-0.03],[1999.5,-0.05],[2000.5,-0.03],[2001.5,-0.06],[2002.5,-0.03],[2003.5,-0.02],[2004.5,-0.07],[2005.5,-0.05],[2006.5,-0.04],[2007.5,-0.03],[2008.5,0.08],[2009.5,0.0],[2010.5,-0.03],[2011.5,-0.07],[2013,-0.1],[2014.5,-0.12],[2016,-0.16],[2017.4,-0.21]];

var horMo1632Mid = [[1977.3,-0.77],[1980,-0.78],[1983,-0.77],[1984.5,-0.65],[1986,-0.55],[1988,-0.48],[1989.5,-0.38],[1991,-0.25],[1992.5,-0.1],[1993.5,-0.05],[1994.3,0.02],[1995,-0.05],[1996.5,0.02],[1998,0.0],[1999.5,0.0],[2000.5,-0.05],[2002,-0.03],[2003.5,0.0],[2005,-0.03],[2007,-0.06],[2009,-0.03],[2011,0.0],[2013,0.03],[2015,0.04],[2017.4,0.05]];
var horMo1632Hi = [[1977.3,-0.25],[1979.5,-0.3],[1981.5,-0.35],[1983,-0.33],[1984.5,-0.27],[1986,-0.23],[1987.5,-0.22],[1989,-0.16],[1990.5,-0.1],[1992,0.0],[1993.5,0.06],[1994.3,0.13],[1995,0.08],[1996.5,0.13],[1998,0.1],[1999.5,0.08],[2000.5,0.04],[2002,0.11],[2003.5,0.12],[2005,0.12],[2006,0.08],[2007.5,0.11],[2009,0.13],[2011,0.18],[2013,0.23],[2015,0.26],[2017.4,0.33]];
var horMo1632Lo = [[1977.3,-1.25],[1979,-1.2],[1981,-1.15],[1982.5,-1.1],[1984,-0.95],[1985.5,-0.85],[1987,-0.75],[1988.5,-0.6],[1990,-0.45],[1991.5,-0.25],[1993,-0.18],[1994.3,-0.12],[1995,-0.18],[1996.5,-0.13],[1998,-0.12],[1999.5,-0.14],[2001,-0.13],[2002.5,-0.15],[2004,-0.18],[2005.5,-0.22],[2007,-0.21],[2009,-0.19],[2011,-0.19],[2013,-0.2],[2015,-0.22],[2017.4,-0.27]];

// ---------------- Oppland LA8 ----------------
var oppLa24Mid = [[1977.3,-0.2],[1978,-0.15],[1979,-0.1],[1980,-0.1],[1981.5,-0.05],[1982.5,0.1],[1983.5,0.0],[1984.2,-0.05],[1985,0.08],[1985.7,0.0],[1986.5,-0.3],[1987.3,-0.15],[1988,-0.1],[1989,0.1],[1989.5,0.15],[1990.3,0.05],[1991,0.1],[1991.9,0.38],[1992.6,0.0],[1993.5,-0.15],[1994.5,-0.2],[1995.3,-0.2],[1996,0.0],[1997,0.0],[1997.6,0.05],[1998.2,0.68],[1999,0.2],[2000,0.25],[2001,0.2],[2002,0.12],[2002.8,0.4],[2003.5,0.1],[2004.5,0.35],[2005.5,0.72],[2006.3,0.2],[2007.5,0.1],[2008,-0.05],[2008.8,-0.42],[2009.5,-0.2],[2010.5,-0.2],[2011.5,-0.1],[2012.5,0.05],[2013.2,0.08],[2013.8,-0.05],[2014.3,0.1],[2015,0.0],[2015.5,0.0],[2016.3,0.45],[2017.4,0.3]];
var oppLa24Hi = [[1977.3,0.3],[1977.8,0.15],[1978.5,0.25],[1979.5,0.45],[1980.5,0.45],[1981.2,0.35],[1982,0.45],[1982.8,0.35],[1983.5,0.3],[1984.2,0.35],[1985,0.4],[1985.8,0.15],[1986.5,0.35],[1987.5,0.35],[1988.3,0.45],[1989.2,0.58],[1990,0.4],[1991.2,0.5],[1992,0.55],[1993,0.1],[1994,0.25],[1995,0.2],[1996,0.35],[1997,0.2],[1998.2,0.95],[1999,0.55],[2000,0.75],[2001,0.7],[2002,0.5],[2002.7,0.65],[2003.3,0.4],[2004.2,0.7],[2005.5,1.05],[2006.3,0.45],[2007.3,0.4],[2008.3,0.0],[2009.2,0.15],[2010,0.15],[2010.5,0.05],[2011.3,0.2],[2012.3,0.35],[2013.5,0.55],[2014.5,0.4],[2015.2,0.2],[2016,0.75],[2016.5,0.72],[2017.4,0.75]];
var oppLa24Lo = [[1977.3,-0.8],[1977.8,-0.5],[1979,-0.5],[1980,-0.6],[1980.8,-0.55],[1981.5,-0.4],[1982.3,-0.15],[1983.2,-0.45],[1984,-0.3],[1984.7,-0.3],[1985.3,-0.1],[1986.4,-0.78],[1987.3,-0.6],[1988,-0.45],[1988.8,-0.25],[1989.7,-0.3],[1990.5,-0.2],[1991.8,0.15],[1992.5,-0.2],[1993.5,-0.6],[1994.2,-0.65],[1995,-0.45],[1996.3,-0.3],[1997,-0.35],[1998.3,0.1],[1999,-0.1],[2000,-0.3],[2001,-0.3],[2001.8,-0.2],[2002.5,-0.05],[2003.3,-0.3],[2004,-0.2],[2005.5,0.2],[2006.5,-0.1],[2007.5,-0.3],[2008.8,-0.8],[2009.7,-0.55],[2010.5,-0.6],[2011.2,-0.4],[2012,-0.2],[2012.8,-0.45],[2013.5,-0.3],[2014.3,-0.45],[2015,-0.45],[2016.2,0.15],[2017.4,-0.15]];

var oppLa48Mid = [[1977.3,0.15],[1978,0.13],[1979.3,0.15],[1980.3,0.0],[1981.3,-0.17],[1982.5,-0.2],[1984.7,-0.22],[1985.8,-0.18],[1986.8,0.0],[1987.3,0.08],[1988.3,0.05],[1989,0.04],[1990,-0.08],[1991,0.1],[1992,0.25],[1993,0.32],[1994,0.2],[1995,0.05],[1996,0.03],[1997,0.05],[1997.8,0.0],[1998.5,-0.07],[1999.5,-0.06],[2000,0.0],[2000.7,0.5],[2001.5,0.27],[2002.5,0.3],[2003.2,0.32],[2004,0.25],[2005,0.2],[2006,0.0],[2007,-0.2],[2008.7,-0.45],[2009.5,-0.3],[2010.5,0.05],[2011.5,0.05],[2012.3,0.08],[2013,0.0],[2014,0.02],[2015.3,0.1],[2016.3,0.15],[2017.4,0.15]];
var oppLa48Hi = [[1977.3,0.52],[1978.5,0.3],[1979.5,0.3],[1980.5,0.1],[1981.5,0.05],[1983,0.08],[1985,0.1],[1986,0.2],[1986.8,0.3],[1987.5,0.1],[1988.5,0.18],[1989.5,0.15],[1990.5,0.2],[1991.5,0.35],[1992.8,0.5],[1993.8,0.3],[1994.5,0.2],[1995.5,0.25],[1996.5,0.25],[1997.5,0.2],[1998.5,0.1],[1999.5,0.2],[2000.7,0.65],[2001.5,0.4],[2002.5,0.5],[2003.5,0.5],[2004.5,0.45],[2005.5,0.4],[2006.5,0.2],[2007.5,-0.05],[2008.7,-0.25],[2009.5,0.0],[2010.5,0.22],[2011.5,0.15],[2012.5,0.2],[2013.5,0.2],[2014.5,0.25],[2015.5,0.3],[2016.5,0.4],[2017.4,0.52]];
var oppLa48Lo = [[1977.3,-0.25],[1978,-0.1],[1979,0.02],[1980,-0.2],[1981,-0.4],[1982.5,-0.45],[1983.5,-0.5],[1984.8,-0.55],[1986,-0.4],[1987,-0.15],[1988,-0.1],[1989,-0.15],[1990,-0.2],[1991,0.0],[1992,0.15],[1993,0.15],[1994,0.05],[1995,-0.2],[1996,-0.2],[1997,-0.15],[1998,-0.2],[1999,-0.25],[2000,-0.1],[2000.7,0.3],[2001.5,0.1],[2002.5,0.1],[2003.5,0.05],[2004.5,0.0],[2005.5,-0.2],[2006.5,-0.5],[2008.7,-0.6],[2009.5,-0.5],[2010.5,-0.2],[2011.5,-0.05],[2012.5,-0.2],[2013.5,-0.15],[2014.5,-0.05],[2015.5,0.0],[2016.5,-0.1],[2017.4,-0.25]];

var oppLa816Mid = [[1977.3,-0.02],[1979,-0.02],[1980.5,0.0],[1981.5,0.15],[1982.5,0.2],[1983.5,0.4],[1984.5,0.55],[1985.5,0.65],[1986.5,0.6],[1987.5,0.5],[1988.5,0.25],[1989.5,0.08],[1990.5,0.1],[1991.5,0.18],[1992.3,0.15],[1992.8,-0.1],[1993.5,-0.15],[1994,-0.25],[1995,-0.25],[1996,-0.2],[1997.5,-0.1],[1999,0.05],[2000.5,0.2],[2001.5,0.22],[2002.5,0.2],[2003.5,0.05],[2004.5,0.03],[2005.5,0.15],[2006.5,0.35],[2007.5,0.6],[2008.5,0.75],[2009.5,0.7],[2010.5,0.35],[2011.5,0.05],[2012.5,0.0],[2013,-0.02],[2014,-0.05],[2015.5,-0.15],[2017.4,-0.22]];
var oppLa816Hi = [[1977.3,0.42],[1978.5,0.3],[1980,0.2],[1981,0.1],[1982,0.3],[1983,0.35],[1984,0.5],[1985.5,0.78],[1986.5,0.72],[1987.5,0.6],[1988.5,0.3],[1989.5,0.1],[1990.5,0.18],[1991.5,0.25],[1992.3,0.22],[1993,0.05],[1994,-0.08],[1995,-0.08],[1996,-0.05],[1997.5,0.1],[1998.5,0.25],[1999.5,0.32],[2001,0.35],[2002,0.38],[2003,0.3],[2004,0.15],[2005,0.3],[2006,0.5],[2007.5,0.8],[2008.5,0.97],[2009.5,0.9],[2010.5,0.5],[2011.5,0.15],[2013,0.1],[2014,0.05],[2015.5,0.1],[2017.4,0.25]];
var oppLa816Lo = [[1977.3,-0.5],[1978.5,-0.35],[1980,-0.2],[1981,0.0],[1982,0.05],[1983,0.05],[1984,0.3],[1985.5,0.55],[1986.5,0.48],[1987.5,0.4],[1988.5,0.15],[1989.5,-0.02],[1990.5,0.0],[1991.5,0.05],[1992.3,0.1],[1993,-0.15],[1993.5,-0.4],[1995,-0.4],[1996,-0.35],[1997.5,-0.25],[1999,-0.1],[2000.5,0.1],[2001.5,0.12],[2002.5,0.05],[2003.5,-0.12],[2004.5,-0.1],[2005.5,0.05],[2006.5,0.2],[2007.5,0.45],[2008.5,0.58],[2009.5,0.55],[2010.5,0.2],[2011.5,-0.05],[2012.5,-0.12],[2013.5,-0.15],[2014.5,-0.3],[2016,-0.5],[2017.4,-0.62]];

var oppLa1632Mid = [[1977.3,-0.1],[1980,-0.1],[1982,-0.03],[1983.5,0.05],[1985,0.06],[1986.5,0.08],[1987.5,0.05],[1988.5,0.1],[1990,0.12],[1991,0.15],[1992,0.15],[1992.5,0.22],[1992.8,0.0],[1993.3,0.05],[1994,0.5],[1994.5,0.65],[1995.5,0.6],[1996.5,0.7],[1997.5,0.85],[1999,0.9],[2000.5,0.95],[2001.5,1.05],[2002.5,1.0],[2004,0.9],[2005.5,0.78],[2007,0.68],[2008.5,0.35],[2009.5,0.1],[2010.5,-0.05],[2011.5,-0.07],[2013,-0.08],[2017.4,-0.08]];
var oppLa1632Hi = [[1977.3,0.35],[1978.5,0.25],[1979.5,0.1],[1981,0.15],[1982.5,0.13],[1984,0.15],[1985,0.12],[1986,0.18],[1987,0.1],[1988,0.15],[1989.5,0.18],[1990.5,0.2],[1991.5,0.2],[1992.5,0.3],[1993,0.1],[1994,0.7],[1995,0.75],[1996,0.72],[1997,0.9],[1998.5,0.98],[2000,1.05],[2001.5,1.12],[2002.5,1.15],[2003.5,1.08],[2005,0.95],[2006.5,0.92],[2007.5,0.85],[2008.5,0.5],[2009.5,0.2],[2010.5,0.05],[2011.5,0.12],[2012.5,0.1],[2013.5,0.08],[2014.5,0.15],[2016,0.28],[2017.4,0.35]];
var oppLa1632Lo = [[1977.3,-0.55],[1978.5,-0.4],[1979.5,-0.3],[1980.5,-0.25],[1982,-0.12],[1983,-0.08],[1984.5,-0.05],[1986,0.0],[1987,-0.05],[1988,0.05],[1989,0.08],[1990.5,0.1],[1991.5,0.12],[1992.5,0.2],[1992.9,-0.05],[1994,0.5],[1995,0.5],[1996,0.55],[1997,0.65],[1998.5,0.75],[2000,0.8],[2001.5,0.85],[2002.5,0.95],[2003.5,0.82],[2005,0.7],[2006.5,0.55],[2007.5,0.45],[2008.5,0.15],[2009.5,-0.05],[2010.5,-0.12],[2011.5,-0.18],[2013,-0.25],[2014.5,-0.32],[2016,-0.42],[2017.4,-0.5]];

// ---------------- Oppland MOLA8 ----------------
var oppMo24Mid = [[1977.3,0.35],[1977.8,0.3],[1978.5,-0.1],[1979.3,-0.15],[1980.5,0.0],[1981.3,0.05],[1982,-0.05],[1982.8,0.2],[1984,-0.35],[1985,0.15],[1985.5,0.1],[1986.5,-0.75],[1987.3,-0.5],[1988,-0.45],[1988.8,0.1],[1989.5,0.2],[1990,-0.1],[1991,-0.1],[1991.9,0.4],[1992.5,-0.15],[1993.5,-0.2],[1994.5,-0.35],[1995.5,-0.4],[1996.3,0.0],[1997.3,-0.05],[1998.2,0.7],[1999,0.2],[2000,0.35],[2001,0.3],[2001.8,0.05],[2002.8,0.5],[2003.8,-0.15],[2004.5,0.05],[2005.5,0.7],[2006.3,0.05],[2007.5,0.0],[2008.5,-0.7],[2009.5,-0.1],[2010.5,-0.35],[2011.3,-0.05],[2012.3,0.1],[2013,-0.5],[2013.8,-0.2],[2014.5,-0.25],[2015.3,-0.3],[2016.2,0.55],[2017.4,0.1]];
var oppMo24Hi = [[1977.3,1.05],[1978,0.5],[1978.6,0.35],[1979.5,0.6],[1980.5,0.4],[1981.3,0.55],[1982,0.35],[1983,0.2],[1984,0.2],[1985,0.55],[1985.8,-0.15],[1986.5,0.05],[1987.3,0.1],[1988.5,0.6],[1989.3,0.3],[1990.3,0.35],[1991.5,0.6],[1992.5,0.3],[1993.5,0.1],[1994.3,0.3],[1995.3,0.1],[1996.3,0.35],[1997.3,0.3],[1998.2,1.0],[1999,0.55],[2000,1.0],[2001,0.85],[2001.8,0.3],[2002.5,0.75],[2003.5,0.2],[2004.5,0.55],[2005.5,1.1],[2006.3,0.45],[2007.5,0.4],[2008.5,0.0],[2009.3,0.2],[2010,0.3],[2010.8,0.1],[2011.8,0.35],[2012.5,0.4],[2013,0.0],[2013.8,0.35],[2014.5,0.3],[2015.3,0.0],[2016.2,0.8],[2016.7,0.6],[2017.4,0.7]];
var oppMo24Lo = [[1977.3,-0.3],[1977.8,-0.25],[1978.5,-0.5],[1979.5,-0.55],[1980.5,-0.6],[1981.3,-0.5],[1982.3,-0.15],[1983,-0.35],[1984,-0.8],[1985,-0.3],[1985.8,-0.7],[1986.6,-1.25],[1987.3,-1.1],[1988,-1.0],[1989,-0.25],[1989.8,-0.5],[1990.5,-0.4],[1991.6,-0.1],[1992.5,-0.6],[1993.5,-0.85],[1994.5,-0.75],[1995.5,-0.5],[1996.3,-0.4],[1997.3,-0.5],[1998.2,0.3],[1998.8,0.0],[1999.8,-0.3],[2000.5,-0.45],[2001.5,-0.3],[2002.5,0.35],[2003.3,-0.35],[2004,-0.55],[2005.5,0.3],[2006.3,-0.3],[2007.5,-0.5],[2008.5,-1.05],[2009.3,-0.6],[2010.3,-0.75],[2011,-0.4],[2012,-0.1],[2012.8,-0.9],[2013.5,-0.8],[2014.5,-0.85],[2015.3,-0.6],[2016,0.25],[2016.8,-0.35],[2017.4,-0.3]];

var oppMo48Mid = [[1977.3,0.092],[2017.4,0.092]];
var oppMo48Hi = [[1977.3,0.165],[1977.4,0.115],[1977.5,0.13],[2017.4,0.13]];
var oppMo48Lo = [[1977.3,0.075],[1977.4,0.022],[1977.5,0.057],[2017.4,0.057]];

var oppMo816Mid = [[1977.3,0.21],[1979,0.21],[1980.5,0.18],[1981.5,0.1],[1982,0.08],[1983,0.12],[1984,0.25],[1984.8,0.3],[1985.5,0.4],[1986.3,0.35],[1987,0.2],[1987.5,0.05],[1988.3,0.08],[1989.5,0.05],[1990.5,0.03],[1991.5,0.02],[1992.5,0.0],[1993.5,-0.1],[1994.5,-0.28],[1995.3,-0.15],[1996.5,-0.1],[1997.5,-0.08],[1999,0.0],[2000,0.05],[2001,0.08],[2002,0.1],[2003,0.1],[2004.5,0.15],[2005.5,0.18],[2007,0.17],[2008.5,0.19],[2009.5,0.17],[2010.5,0.14],[2011.5,0.07],[2013,0.06],[2014.5,0.03],[2016,0.015],[2017.4,0.01]];
var oppMo816Hi = [[1977.3,0.58],[1978.5,0.5],[1980,0.4],[1981,0.35],[1982,0.2],[1982.8,0.2],[1983.5,0.3],[1984.3,0.35],[1985.2,0.52],[1985.7,0.45],[1986.5,0.2],[1987.3,0.15],[1988.3,0.17],[1989.3,0.1],[1990.5,0.1],[1991.5,0.08],[1992.5,0.0],[1993.5,-0.1],[1994.5,-0.15],[1995.5,0.05],[1996.5,0.08],[1998,0.1],[1999.5,0.15],[2001,0.22],[2002,0.27],[2003.5,0.3],[2005,0.32],[2006.5,0.33],[2008,0.36],[2009.3,0.37],[2010.5,0.35],[2011.5,0.3],[2012.5,0.22],[2013.5,0.25],[2015,0.3],[2016.5,0.37],[2017.4,0.42]];
var oppMo816Lo = [[1977.3,-0.15],[1978.5,-0.08],[1979.5,0.0],[1980.5,0.01],[1981.5,0.0],[1982.3,-0.02],[1983.3,0.05],[1984,0.15],[1985,0.3],[1985.8,0.28],[1986.5,0.05],[1987.3,-0.05],[1988.3,-0.02],[1989.3,-0.08],[1990.5,-0.05],[1991.5,-0.08],[1992.5,-0.15],[1993.3,-0.35],[1994.3,-0.42],[1995,-0.22],[1996,-0.23],[1997,-0.2],[1998,-0.12],[1999.5,-0.08],[2000.5,-0.05],[2001.5,-0.08],[2002.5,-0.1],[2003.5,-0.08],[2005,0.0],[2006,0.04],[2007.5,0.02],[2009,0.0],[2010,-0.02],[2011.3,-0.1],[2012.5,-0.1],[2013.5,-0.15],[2015,-0.25],[2016.5,-0.35],[2017.4,-0.4]];

var oppMo1632Mid = [[1977.3,-1.27],[1979,-1.28],[1982,-1.25],[1983.5,-1.2],[1984.5,-1.0],[1985.5,-0.7],[1986.5,-0.45],[1987.5,-0.1],[1988.3,0.1],[1989.5,0.15],[1990.5,0.1],[1992,0.08],[1993.5,0.12],[1995,0.1],[1997,0.1],[1998.5,0.05],[2000,-0.05],[2001,-0.1],[2002,0.0],[2003,0.3],[2004,0.5],[2005.3,0.62],[2006.3,0.5],[2007.5,0.2],[2008.5,0.0],[2009.3,-0.17],[2010.5,-0.12],[2012,-0.08],[2013,0.0],[2014.5,0.15],[2015.5,0.25],[2017.4,0.25]];
var oppMo1632Hi = [[1977.3,-0.8],[1979,-0.9],[1981,-1.0],[1983,-1.1],[1984,-0.85],[1985,-0.6],[1986,-0.4],[1987,-0.05],[1988.3,0.25],[1989.3,0.3],[1990.5,0.15],[1992,0.15],[1993.5,0.15],[1995,0.15],[1996.5,0.15],[1998,0.15],[1999.5,0.1],[2000.5,0.0],[2001.5,0.1],[2002.5,0.4],[2004,0.7],[2005.3,0.78],[2006.5,0.55],[2007.5,0.3],[2008.5,0.05],[2009.5,0.0],[2010.5,0.05],[2011.5,0.05],[2012.5,0.2],[2014,0.4],[2015.5,0.52],[2017.4,0.62]];
var oppMo1632Lo = [[1977.3,-1.75],[1979,-1.65],[1981,-1.5],[1982.5,-1.35],[1983.5,-1.2],[1984.5,-1.05],[1985.5,-0.85],[1986.5,-0.55],[1987.5,-0.25],[1988.5,-0.05],[1990,0.0],[1991.5,0.05],[1993,0.1],[1995,0.05],[1996.5,0.05],[1998,0.0],[1999.5,-0.1],[2000.5,-0.15],[2001.5,-0.15],[2002.5,0.1],[2004,0.35],[2005,0.48],[2006.3,0.3],[2007.5,0.0],[2008.5,-0.2],[2009.5,-0.27],[2010.5,-0.25],[2011.5,-0.15],[2012.5,-0.1],[2013.5,-0.05],[2014.5,0.05],[2015.5,0.03],[2016.5,-0.05],[2017.4,-0.1]];

// ---------------- layout ----------------
var FONT = 'Lato, "Open Sans", sans-serif';
var rowsPx = [
  { top: 77, bottom: 211, lefts: [103, 416, 731, 1045] },
  { top: 271, bottom: 404, lefts: [103, 416, 731, 1045] },
  { top: 553, bottom: 687, lefts: [104, 416, 731, 1045] },
  { top: 747, bottom: 880, lefts: [104, 416, 731, 1045] },
  { top: 1032, bottom: 1165, lefts: [110, 420, 731, 1045] },
  { top: 1222, bottom: 1357, lefts: [110, 420, 731, 1045] }
];
var rights = [378, 683, 1010, 1312];

// row, col, mid, lo, hi, gridTicks, labelTicks, decimals, dropLeadingZero
var panels = [
  [0, 0, hedLa24Mid, hedLa24Lo, hedLa24Hi, t12by4, t12by4, 1, false],
  [0, 1, hedLa48Mid, hedLa48Lo, hedLa48Hi, tH48grid, tH48lab, 1, false],
  [0, 2, hedLa816Mid, hedLa816Lo, hedLa816Hi, tH816, tH816, 1, true],
  [0, 3, hedLa1632Mid, hedLa1632Lo, hedLa1632Hi, tH1632, tH1632, 1, true],
  [1, 0, hedMo24Mid, hedMo24Lo, hedMo24Hi, tHM24, tHM24, 1, true],
  [1, 1, hedMo48Mid, hedMo48Lo, hedMo48Hi, tHM48grid, tHM48lab, 1, false],
  [1, 2, hedMo816Mid, hedMo816Lo, hedMo816Hi, tHM816grid, tHM816lab, 1, false],
  [1, 3, hedMo1632Mid, hedMo1632Lo, hedMo1632Hi, t16by4, t16by4, 1, false],
  [2, 0, horLa24Mid, horLa24Lo, horLa24Hi, tD24, tD24, 1, false],
  [2, 1, horLa48Mid, horLa48Lo, horLa48Hi, tD48, tD48, 1, true],
  [2, 2, horLa816Mid, horLa816Lo, horLa816Hi, tD816grid, tD816lab, 1, false],
  [2, 3, horLa1632Mid, horLa1632Lo, horLa1632Hi, tD1632grid, tD1632lab, 1, true],
  [3, 0, horMo24Mid, horMo24Lo, horMo24Hi, tDM24grid, tDM24lab, 1, true],
  [3, 1, horMo48Mid, horMo48Lo, horMo48Hi, tDM48grid, tDM48lab, 1, true],
  [3, 2, horMo816Mid, horMo816Lo, horMo816Hi, tDM816, tDM816, 1, true],
  [3, 3, horMo1632Mid, horMo1632Lo, horMo1632Hi, tDM1632, tDM1632, 1, false],
  [4, 0, oppLa24Mid, oppLa24Lo, oppLa24Hi, t12by4, t12by4, 1, false],
  [4, 1, oppLa48Mid, oppLa48Lo, oppLa48Hi, tO48grid, tO48lab, 1, true],
  [4, 2, oppLa816Mid, oppLa816Lo, oppLa816Hi, tO816, tO816, 1, false],
  [4, 3, oppLa1632Mid, oppLa1632Lo, oppLa1632Hi, tO816, tO816, 1, false],
  [5, 0, oppMo24Mid, oppMo24Lo, oppMo24Hi, tOM24, tOM24, 1, false],
  [5, 1, oppMo48Mid, oppMo48Lo, oppMo48Hi, tOM48, tOM48, 2, true],
  [5, 2, oppMo816Mid, oppMo816Lo, oppMo816Hi, tOM816, tOM816, 1, true],
  [5, 3, oppMo1632Mid, oppMo1632Lo, oppMo1632Hi, tOM1632, tOM1632, 1, false]
];

function fmt(dec, noLead) {
  return function (v) {
    var s = Math.abs(v).toFixed(dec);
    if (noLead && s.charAt(0) === '0') s = s.slice(1);
    return (v < -1e-9 ? '-' : '') + s;
  };
}

var grids = [], xAxes = [], yAxes = [], series = [];
panels.forEach(function (p, i) {
  var r = rowsPx[p[0]], c = p[1];
  var left = r.lefts[c];
  grids.push({ left: left, top: r.top, width: rights[c] - left, height: r.bottom - r.top });
  xAxes.push({
    type: 'value', gridIndex: i, min: xMin, max: xMax,
    axisLine: { show: false },
    axisTick: { show: false, customValues: yearTicks },
    axisLabel: { customValues: yearTicks, color: '#404040', fontSize: 13, fontFamily: FONT, margin: 7,
      formatter: function (v) { return String(Math.round(v)); } },
    splitLine: { show: true, lineStyle: { color: '#e6e6e6', width: 1 } }
  });
  var g = p[5];
  yAxes.push({
    type: 'value', gridIndex: i, min: g[0], max: g[g.length - 1],
    axisLine: { show: false },
    axisTick: { show: false, customValues: g },
    axisLabel: { customValues: p[6], color: '#404040', fontSize: 13, fontFamily: FONT, margin: 5, formatter: fmt(p[7], p[8]) },
    splitLine: { show: true, lineStyle: { color: '#e6e6e6', width: 1 } }
  });
  var base = { type: 'line', xAxisIndex: i, yAxisIndex: i, symbol: 'none', showSymbol: false,
    silent: true, animation: false, smooth: 0.3 };
  series.push(Object.assign({}, base, {
    data: p[3], z: 3,
    lineStyle: { color: '#000', width: 1.1, type: [3, 2] },
    markLine: {
      silent: true, symbol: ['none', 'none'], z: 1, animation: false,
      label: { show: false },
      lineStyle: { color: '#bfbfbf', width: 2, type: 'solid' },
      data: [{ yAxis: 0 }]
    }
  }));
  series.push(Object.assign({}, base, { data: p[4], z: 3, lineStyle: { color: '#000', width: 1.1, type: [3, 2] } }));
  series.push(Object.assign({}, base, { data: p[2], z: 4, lineStyle: { color: '#000', width: 1.7 } }));
});

// text and legend boxes
function txt(x, y, s, size, align) {
  return { type: 'text', x: x, y: y, silent: true,
    style: { text: s, font: size + 'px ' + FONT, fill: '#000', textAlign: align || 'center', align: align || 'center',
      textVerticalAlign: 'middle', verticalAlign: 'middle' } };
}
function legendBox(x, y, w, lineX, textX, dashX) {
  return { type: 'group', x: x, y: y, silent: true, children: [
    { type: 'rect', shape: { x: 0, y: 0, width: w, height: 28 }, style: { fill: '#fff', stroke: '#d9d9d9', lineWidth: 1 } },
    { type: 'line', shape: { x1: lineX, y1: 14, x2: lineX + 29, y2: 14 }, style: { stroke: '#000', lineWidth: 1.5 } },
    txt(textX, 14, 'time varying coefficients', 20, 'left'),
    txt(dashX, 14, '----- 95% CI', 18, 'left')
  ] };
}

var colTitles = [
  [[255, 60, '2 to 4 Months'], [563, 60, '4 to 8 months'], [878, 60, '8 to 16 months'], [1190, 60, '16 to 32 months']],
  [[255, 531, '2 to 4 months'], [565, 530, '4 to 8 months'], [880, 527, '8 to 16 months'], [1190, 526, '16 to 32 months']],
  [[258, 1013, '2 to 4 months'], [572, 1011, '4 to 8 months'], [878, 1009, '8 to 16 months'], [1188, 1011, '16 to 32 months']]
];
var graphics = [
  txt(668, 20, 'Hedmark', 22), txt(668, 493, 'Hordaland', 22), txt(668, 968, 'Oppland', 22),
  txt(38, 143, 'LA8', 17), txt(36, 348, 'MOLA8', 17),
  txt(44, 633, 'LA8', 17), txt(43, 815, 'MOLA8', 17),
  txt(44, 1098, 'LA8', 17), txt(43, 1290, 'MOLA8', 17),
  legendBox(508, 446, 382, 5, 40, 282),
  legendBox(510, 921, 383, 7, 41, 280),
  legendBox(490, 1392, 378, 7, 45, 278)
];
colTitles.forEach(function (row) {
  row.forEach(function (t) { graphics.push(txt(t[0], t[1], t[2], 18)); });
});

var chart = echarts.init(document.getElementById('main'), null, { renderer: 'canvas' });
chart.setOption({
  backgroundColor: '#fff',
  animation: false,
  grid: grids,
  xAxis: xAxes,
  yAxis: yAxes,
  series: series,
  graphic: graphics
});
</script>
</body>
</html>
